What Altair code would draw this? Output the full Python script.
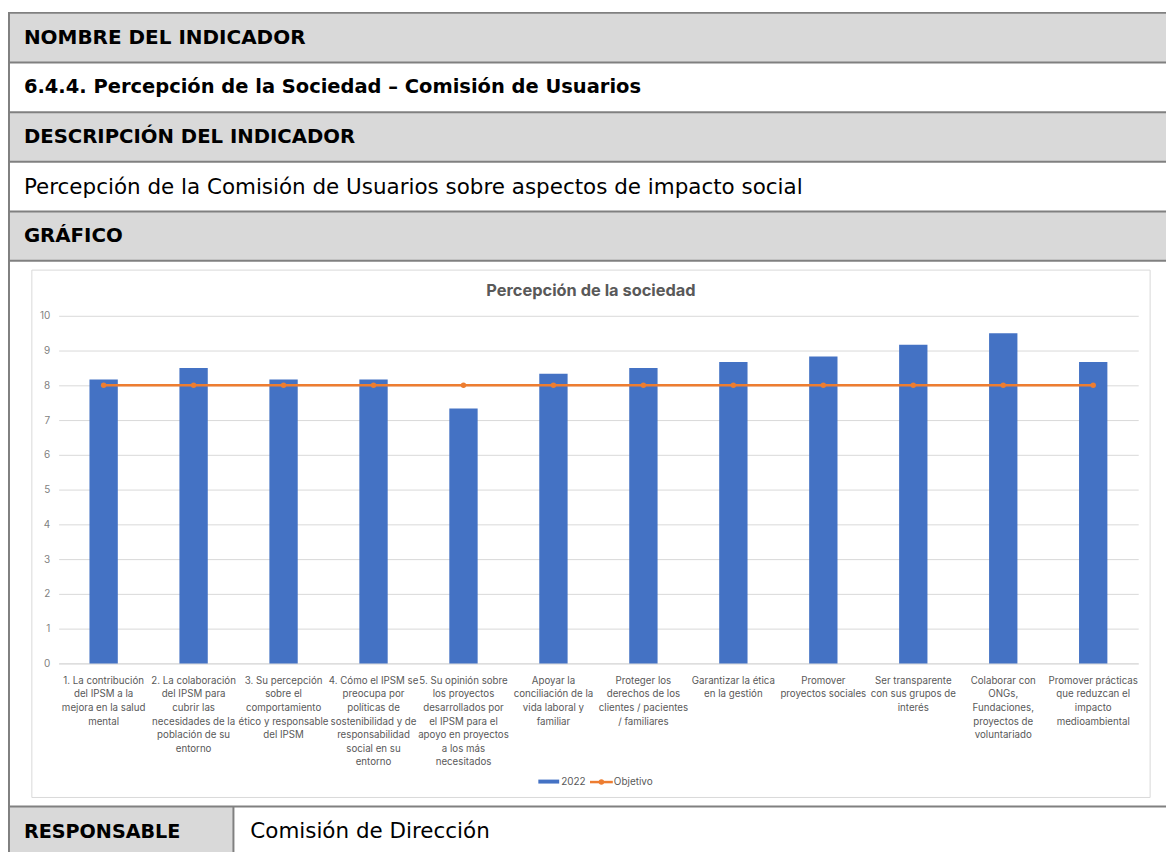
import altair as alt
import pandas as pd

# ---------------- data ----------------
tick_lines = [
    ["1. La contribución", "del IPSM a la", "mejora en la salud", "mental"],
    ["2. La colaboración", "del IPSM para", "cubrir las", "necesidades de la", "población de su", "entorno"],
    ["3. Su percepción", "sobre el", "comportamiento", "ético y responsable", "del IPSM"],
    ["4. Cómo el IPSM se", "preocupa por", "políticas de", "sostenibilidad y de", "responsabilidad", "social en su", "entorno"],
    ["5. Su opinión sobre", "los proyectos", "desarrollados por", "el IPSM para el", "apoyo en proyectos", "a los más", "necesitados"],
    ["Apoyar la", "conciliación de la", "vida laboral y", "familiar"],
    ["Proteger los", "derechos de los", "clientes / pacientes", "/ familiares"],
    ["Garantizar la ética", "en la gestión"],
    ["Promover", "proyectos sociales"],
    ["Ser transparente", "con sus grupos de", "interés"],
    ["Colaborar con", "ONGs,", "Fundaciones,", "proyectos de", "voluntariado"],
    ["Promover prácticas", "que reduzcan el", "impacto", "medioambiental"],
]
values_2022 = [8.17, 8.5, 8.17, 8.17, 7.33, 8.33, 8.5, 8.67, 8.83, 9.17, 9.5, 8.67]
objetivo = [8, 8, 8, 8, 8, 8, 8, 8, 8, 8, 8, 8]
series_names = ["2022", "Objetivo"]
y_ticks = [0, 1, 2, 3, 4, 5, 6, 7, 8, 9, 10]
chart_title = "Percepción de la sociedad"

row_texts = [
    ("NOMBRE DEL INDICADOR", "bold", 20.1),
    ("6.4.4. Percepción de la Sociedad – Comisión de Usuarios", "bold", 19.6),
    ("DESCRIPCIÓN DEL INDICADOR", "bold", 19.8),
    ("Percepción de la Comisión de Usuarios sobre aspectos de impacto social", "normal", 21.6),
    ("GRÁFICO", "bold", 19.9),
]
footer_label = "RESPONSABLE"
footer_value = "Comisión de Dirección"

# ---------------- styles / layout ----------------
FONT = "Inter"
TFONT = "DejaVu Sans"
BLUE = "#4472C4"
ORANGE = "#ED7D31"
GRID = "#d9d9d9"
LABEL = "#595959"
BORDER = "#808080"
HEAD_BG = "#d9d9d9"

PLOT_W, PLOT_H = 1087, 350
PAD = {"left": 51, "top": 307, "right": 28, "bottom": 187}

labels = ["|".join(l) for l in tick_lines]
df = pd.DataFrame({"cat": labels, "v2022": values_2022, "obj": objetivo})

one = alt.Data(values=[{}])

xscale = alt.Scale(paddingInner=0.685, paddingOuter=0.3425)
xaxis = alt.Axis(
    title=None, labelAngle=0, labelExpr="split(datum.label, '|')",
    labelFont=FONT, labelFontSize=9.8, labelLineHeight=13.7, labelColor=LABEL,
    labelBaseline="top", labelPadding=12, labelLimit=0, labelOverlap=False,
    ticks=False, domainColor=GRID, grid=False,
)
yscale = alt.Scale(domain=[0, 10], nice=False)
yaxis = alt.Axis(
    title=None, values=y_ticks, domain=False, ticks=False, grid=True,
    gridColor=GRID, labelFont=FONT, labelFontSize=10, labelColor="#7f7f7f",
    labelPadding=9, labelOverlap=False)

bars = alt.Chart(df).mark_bar(color=BLUE).encode(
    x=alt.X("cat:N", sort=None, scale=xscale, axis=xaxis),
    y=alt.Y("v2022:Q", scale=yscale, axis=yaxis),
)
line = alt.Chart(df).mark_line(color=ORANGE, strokeWidth=2.5).encode(
    x=alt.X("cat:N", sort=None, scale=xscale, axis=xaxis),
    y=alt.Y("obj:Q", scale=yscale, axis=yaxis))
pts = alt.Chart(df).mark_point(color=ORANGE, filled=True, opacity=1, size=30).encode(
    x=alt.X("cat:N", sort=None, scale=xscale, axis=xaxis),
    y=alt.Y("obj:Q", scale=yscale, axis=yaxis))

layers = []

# table backgrounds (plot-relative pixel coordinates)
for (y0, y1) in [(-305, -255), (-205, -155), (-105, -55.5)]:
    layers.append(alt.Chart(one).mark_rect(color=HEAD_BG).encode(
        x=alt.value(-51), x2=alt.value(1115), y=alt.value(y0), y2=alt.value(y1)))
layers.append(alt.Chart(one).mark_rect(color=HEAD_BG).encode(
    x=alt.value(-51), x2=alt.value(176), y=alt.value(494), y2=alt.value(540)))

# chart frame
layers.append(alt.Chart(one).mark_rect(fillOpacity=0, stroke=GRID, strokeWidth=1).encode(
    x=alt.value(-27), x2=alt.value(1099), y=alt.value(-46), y2=alt.value(485)))

# table borders
for yb in [-305, -255, -205, -155, -105, -55.5, 494]:
    layers.append(alt.Chart(one).mark_rule(color=BORDER, strokeWidth=2).encode(
        x=alt.value(-51), x2=alt.value(1115), y=alt.value(yb)))
layers.append(alt.Chart(one).mark_rule(color=BORDER, strokeWidth=2).encode(
    x=alt.value(-50), y=alt.value(-306), y2=alt.value(540)))
layers.append(alt.Chart(one).mark_rule(color=BORDER, strokeWidth=2).encode(
    x=alt.value(176), y=alt.value(494), y2=alt.value(540)))

# table texts
row_y = [-280, -230, -180, -129, -80]
for (txt, wt, fs), ty in zip(row_texts, row_y):
    layers.append(alt.Chart(one).mark_text(
        text=txt, font=TFONT, fontSize=fs, fontWeight=wt, color="black",
        align="left", baseline="middle").encode(x=alt.value(-35), y=alt.value(ty)))
layers.append(alt.Chart(one).mark_text(
    text=footer_label, font=TFONT, fontSize=19.3, fontWeight="bold", color="black",
    align="left", baseline="middle").encode(x=alt.value(-35), y=alt.value(520)))
layers.append(alt.Chart(one).mark_text(
    text=footer_value, font=TFONT, fontSize=21.6, color="black",
    align="left", baseline="middle").encode(x=alt.value(193), y=alt.value(520)))

# chart title
layers.append(alt.Chart(one).mark_text(
    text=chart_title, font=FONT, fontSize=16.5, fontWeight="bold", color=LABEL,
    align="center", baseline="middle").encode(x=alt.value(536), y=alt.value(-25)))

# legend
layers.append(alt.Chart(one).mark_rect(color=BLUE).encode(
    x=alt.value(483), x2=alt.value(504), y=alt.value(467), y2=alt.value(471)))
layers.append(alt.Chart(one).mark_text(
    text=series_names[0], font=FONT, fontSize=10, color=LABEL, align="left",
    baseline="middle").encode(x=alt.value(506), y=alt.value(469)))
layers.append(alt.Chart(one).mark_rule(color=ORANGE, strokeWidth=2.5).encode(
    x=alt.value(535), x2=alt.value(558), y=alt.value(469.5)))
layers.append(alt.Chart(one).mark_point(color=ORANGE, filled=True, opacity=1, size=30).encode(
    x=alt.value(546.5), y=alt.value(469.5)))
layers.append(alt.Chart(one).mark_text(
    text=series_names[1], font=FONT, fontSize=10, color=LABEL, align="left",
    baseline="middle").encode(x=alt.value(559), y=alt.value(469)))

chart = alt.layer(*layers, bars, line, pts).properties(
    width=PLOT_W, height=PLOT_H, padding=PAD,
    autosize=alt.AutoSizeParams(type="none"), background="white",
).configure_view(stroke=None)

chart.save("out.html", embed_options={"renderer": "svg", "actions": False})
